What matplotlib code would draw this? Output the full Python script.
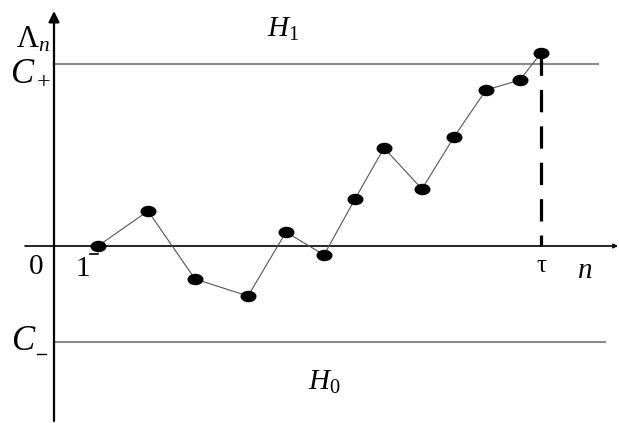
import numpy as np
import matplotlib
matplotlib.use('Agg')
import matplotlib.pyplot as plt
from matplotlib.path import Path
from matplotlib.transforms import Affine2D

plt.rcParams['mathtext.fontset'] = 'custom'
plt.rcParams['mathtext.rm'] = 'Liberation Serif'
plt.rcParams['mathtext.it'] = 'Liberation Serif:italic'
plt.rcParams['font.family'] = 'Liberation Serif'

# statistic Lambda_n at each step (arbitrary units)
n_pos = [4.4, 9.4, 14.1, 19.4, 23.2, 27.0, 30.1, 33.0, 36.8, 40.0, 43.2, 46.6, 48.7]
lam = [0.0, 3.5, -3.3, -5.0, 1.4, -0.9, 4.7, 9.8, 5.7, 10.9, 15.6, 16.6, 19.3]
c_plus = 18.2
c_minus = -9.6
tau = 48.7

fig = plt.figure(figsize=(6.19, 4.23), dpi=100)
ax = fig.add_axes([0, 0, 1, 1])
ax.set_xlim(-5.4, 56.5)
ax.set_ylim(-17.7, 24.6)
ax.axis('off')

# thresholds
ax.plot([0, 54.4], [c_plus, c_plus], color='#8c8c8c', lw=1.5)
ax.plot([0, 55.1], [c_minus, c_minus], color='#8c8c8c', lw=1.5)

# axes with arrows
ax.annotate('', xy=(0, 23.5), xytext=(0, -17.5),
            arrowprops=dict(arrowstyle='-|>', color='black', lw=1.6,
                            mutation_scale=16, shrinkA=0, shrinkB=0))
ax.annotate('', xy=(56.4, 0), xytext=(-2.9, 0),
            arrowprops=dict(arrowstyle='->', color='black', lw=1.2,
                            mutation_scale=6, shrinkA=0, shrinkB=0))

# stopping time
ax.plot([tau, tau], [lam[-1], 0], color='black', lw=2.3,
        dashes=(7.0, 4.4))

# trajectory
ellipse = Path.unit_circle().transformed(Affine2D().scale(1.45, 1.0))
ax.plot(n_pos, lam, color='#555555', lw=0.8, zorder=3)
ax.plot(n_pos, lam, ls='none', marker=ellipse, ms=10.5, color='black', zorder=4)
ax.plot([3.6, 4.4], [-0.8, -0.8], color='black', lw=1.2, zorder=5)

# labels
ax.text(-2.1, 20.6, r'$\Lambda_n$', fontsize=22, ha='center', va='center')
ax.text(-2.3, 17.3, r'$C_+$', fontsize=25, ha='center', va='center')
ax.text(-3.1, -9.6, 'C', fontsize=25, style='italic', ha='center', va='center',
        zorder=6)
ax.plot([-1.7, -0.8], [-10.8, -10.8], color='black', lw=1.0)
ax.text(22.9, 21.7, r'$H_1$', fontsize=21, ha='center', va='center')
ax.text(27.0, -13.6, r'$H_0$', fontsize=21, ha='center', va='center')
ax.text(-1.8, -2.1, '0', fontsize=21, ha='center', va='center')
ax.text(2.9, -2.3, '1', fontsize=21, ha='center', va='center')
ax.text(tau, -2.0, 'τ', fontsize=18, ha='center', va='center')
ax.text(53.1, -2.5, r'$n$', fontsize=21, ha='center', va='center')

fig.savefig('out.png', dpi=100)
